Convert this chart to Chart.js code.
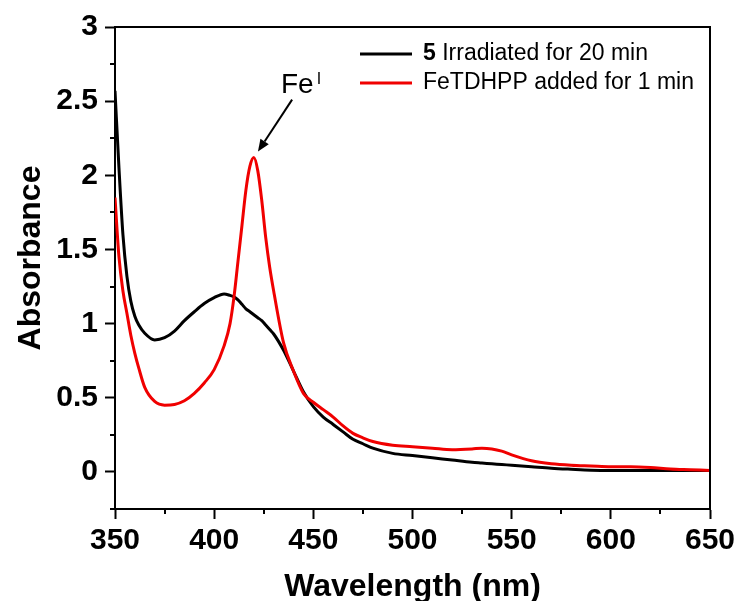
<!DOCTYPE html>
<html>
<head>
<meta charset="utf-8">
<script src="https://cdn.jsdelivr.net/npm/chart.js@4.4.1/dist/chart.umd.min.js"></script>
<style>
  html, body { margin: 0; padding: 0; background: #fff; }
  #wrap { width: 740px; height: 601px; }
</style>
</head>
<body>
<div id="wrap"><canvas id="chart" width="740" height="601"></canvas></div>
<script>
// wavelength grid (nm)
const wavelengths = [350, 352, 354, 356, 358, 360, 362, 365, 370, 375, 380, 385, 390, 395, 400, 405, 408, 410, 412, 414, 416, 418, 420, 422, 424, 426, 428, 430, 435, 440, 445, 450, 455, 460, 465, 470, 475, 480, 490, 500, 510, 520, 530, 535, 540, 545, 550, 560, 570, 580, 590, 600, 610, 620, 630, 640, 650];

// 5 irradiated for 20 min (black)
const irradiated = [2.57, 2.05, 1.6, 1.32, 1.15, 1.05, 0.99, 0.935, 0.89, 0.905, 0.95, 1.02, 1.08, 1.135, 1.175, 1.2, 1.19, 1.18, 1.16, 1.13, 1.1, 1.08, 1.06, 1.04, 1.02, 0.99, 0.96, 0.93, 0.82, 0.68, 0.54, 0.44, 0.37, 0.32, 0.27, 0.22, 0.19, 0.16, 0.125, 0.11, 0.095, 0.08, 0.065, 0.06, 0.055, 0.05, 0.045, 0.035, 0.025, 0.018, 0.012, 0.01, 0.01, 0.01, 0.01, 0.01, 0.01];

// FeTDHPP added for 1 min (red)
const feAdded = [1.85, 1.45, 1.22, 1.07, 0.92, 0.8, 0.7, 0.57, 0.475, 0.45, 0.455, 0.48, 0.53, 0.6, 0.69, 0.85, 1.0, 1.18, 1.42, 1.66, 1.9, 2.06, 2.12, 2.03, 1.83, 1.58, 1.38, 1.22, 0.87, 0.68, 0.53, 0.47, 0.42, 0.37, 0.31, 0.26, 0.23, 0.205, 0.18, 0.17, 0.16, 0.15, 0.155, 0.16, 0.155, 0.14, 0.115, 0.075, 0.055, 0.045, 0.04, 0.035, 0.035, 0.03, 0.02, 0.015, 0.01];

const xTicks = [350, 400, 450, 500, 550, 600, 650];
const xMinorTicks = [375, 425, 475, 525, 575, 625];
const yTicks = [0, 0.5, 1, 1.5, 2, 2.5, 3];
const yMinorTicks = [-0.25, 0.25, 0.75, 1.25, 1.75, 2.25, 2.75];

const seriesNames = ["Irradiated for 20 min", "FeTDHPP added for 1 min"];

const FONT = "'Liberation Sans', Arial, sans-serif";
const RED = "#f00000";

function points(ys) {
  return wavelengths.map((x, i) => ({ x: x, y: ys[i] }));
}

// box, minor ticks, legend, axis title and the Fe(I) arrow
const extras = {
  id: "extras",
  afterDraw(chart) {
    const ctx = chart.ctx;
    const a = chart.chartArea;
    const xs = chart.scales.x;
    const ys = chart.scales.y;
    ctx.save();
    ctx.strokeStyle = "#000";
    ctx.lineWidth = 2;
    ctx.beginPath();
    ctx.moveTo(a.left, a.top);
    ctx.lineTo(a.right, a.top);
    ctx.lineTo(a.right, a.bottom);
    ctx.stroke();

    // minor ticks
    yMinorTicks.forEach(v => {
      const y = Math.round(ys.getPixelForValue(v));
      ctx.beginPath();
      ctx.moveTo(a.left - 5, y);
      ctx.lineTo(a.left, y);
      ctx.stroke();
    });
    xMinorTicks.forEach(v => {
      const x = Math.round(xs.getPixelForValue(v));
      ctx.beginPath();
      ctx.moveTo(x, a.bottom);
      ctx.lineTo(x, a.bottom + 5);
      ctx.stroke();
    });

    // legend
    const lx = 360, ly = [54, 83];
    const colors = ["#000000", RED];
    ctx.lineWidth = 3;
    ctx.textBaseline = "middle";
    ctx.textAlign = "left";
    ly.forEach((y, i) => {
      ctx.strokeStyle = colors[i];
      ctx.beginPath();
      ctx.moveTo(lx, y);
      ctx.lineTo(lx + 52, y);
      ctx.stroke();
    });
    ctx.fillStyle = "#000";
    ctx.font = "bold 23px " + FONT;
    ctx.fillText("5", 423, ly[0]);
    const w5 = ctx.measureText("5 ").width;
    ctx.font = "23px " + FONT;
    ctx.fillText(seriesNames[0], 423 + w5, ly[0]);
    ctx.fillText(seriesNames[1], 423, ly[1]);

    // y axis title
    ctx.font = "bold 32px " + FONT;
    ctx.textAlign = "center";
    ctx.save();
    ctx.translate(31, 258);
    ctx.rotate(-Math.PI / 2);
    ctx.fillText("Absorbance", 0, 0);
    ctx.restore();

    // Fe(I) annotation
    const tx = xs.getPixelForValue(433.7);
    const tb = ys.getPixelForValue(2.557);
    ctx.textBaseline = "alphabetic";
    ctx.textAlign = "left";
    ctx.font = "28px " + FONT;
    ctx.fillText("Fe", tx, tb);
    const wf = ctx.measureText("Fe").width;
    ctx.font = "16px " + FONT;
    ctx.fillText("I", tx + wf + 3, tb - 9);

    const x0 = xs.getPixelForValue(439.3), y0 = ys.getPixelForValue(2.51);
    const x1 = xs.getPixelForValue(422.1), y1 = ys.getPixelForValue(2.16);
    const ang = Math.atan2(y1 - y0, x1 - x0);
    const hl = 12, hw = 5;
    const bx = x1 - hl * Math.cos(ang), by = y1 - hl * Math.sin(ang);
    ctx.strokeStyle = "#000";
    ctx.lineWidth = 2;
    ctx.beginPath();
    ctx.moveTo(x0, y0);
    ctx.lineTo(bx, by);
    ctx.stroke();
    ctx.beginPath();
    ctx.moveTo(x1, y1);
    ctx.lineTo(bx + hw * Math.sin(ang), by - hw * Math.cos(ang));
    ctx.lineTo(bx - hw * Math.sin(ang), by + hw * Math.cos(ang));
    ctx.closePath();
    ctx.fill();
    ctx.restore();
  }
};

const ctx = document.getElementById("chart").getContext("2d");

new Chart(ctx, {
  type: "line",
  data: {
    datasets: [
      {
        label: seriesNames[1],
        data: points(feAdded),
        borderColor: RED,
        borderWidth: 3,
        pointRadius: 0,
        cubicInterpolationMode: "monotone",
        order: 0
      },
      {
        label: seriesNames[0],
        data: points(irradiated),
        borderColor: "#000000",
        borderWidth: 3,
        pointRadius: 0,
        cubicInterpolationMode: "monotone",
        order: 1
      }
    ]
  },
  options: {
    responsive: false,
    animation: false,
    layout: { padding: { top: 27, right: 30, left: 0, bottom: 0 } },
    plugins: {
      legend: { display: false },
      tooltip: { enabled: false }
    },
    scales: {
      x: {
        type: "linear",
        min: 350,
        max: 650,
        afterBuildTicks: s => { s.ticks = xTicks.map(v => ({ value: v })); },
        afterFit: s => { s.height = 92; },
        grid: { drawOnChartArea: false, drawTicks: true, tickLength: 10, tickWidth: 2, tickColor: "#000" },
        border: { display: true, color: "#000", width: 2 },
        ticks: {
          color: "#000",
          padding: 4,
          maxRotation: 0,
          font: { family: FONT, size: 30, weight: "bold" },
          callback: v => String(v)
        },
        title: {
          display: true,
          text: "Wavelength (nm)",
          color: "#000",
          font: { family: FONT, size: 32, weight: "bold" },
          padding: { top: 13, bottom: -5 }
        }
      },
      y: {
        min: -0.25,
        max: 3,
        afterBuildTicks: s => { s.ticks = yTicks.map(v => ({ value: v })); },
        afterFit: s => { s.width = 115; },
        grid: { drawOnChartArea: false, drawTicks: true, tickLength: 10, tickWidth: 2, tickColor: "#000" },
        border: { display: true, color: "#000", width: 2 },
        ticks: {
          color: "#000",
          padding: 7,
          font: { family: FONT, size: 30, weight: "bold" },
          callback: v => String(v)
        }
      }
    }
  },
  plugins: [extras]
});
</script>
</body>
</html>
